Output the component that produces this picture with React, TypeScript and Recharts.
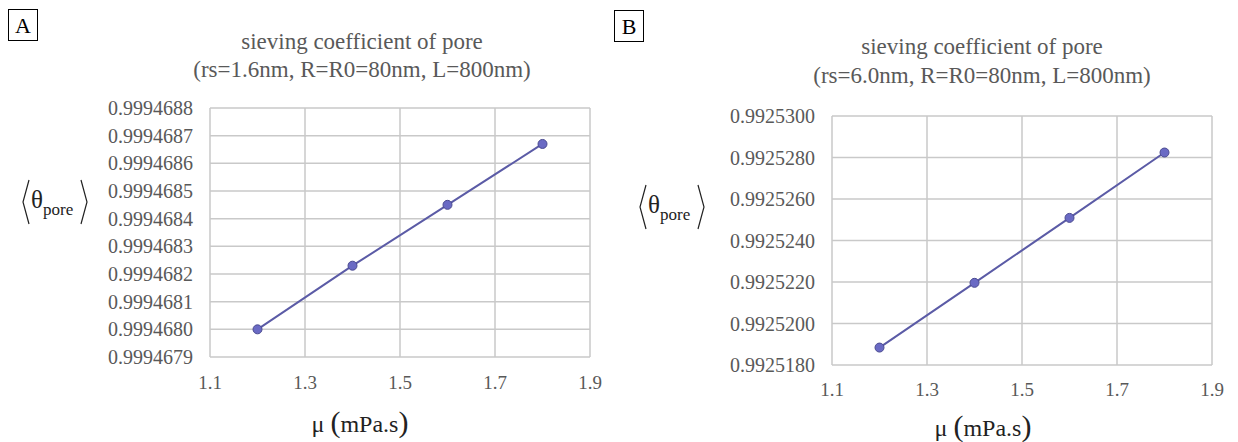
import React from 'react';
import { LineChart, Line, XAxis, YAxis, CartesianGrid } from 'recharts';

const muValues = [1.2, 1.4, 1.6, 1.8];
const thetaA = [0.99946800, 0.99946823, 0.99946845, 0.99946867];
const thetaB = [0.99251884, 0.99252196, 0.99252509, 0.99252824];

const xTicks = [1.1, 1.3, 1.5, 1.7, 1.9];
const yTicksA = [
  0.9994679, 0.999468, 0.9994681, 0.9994682, 0.9994683, 0.9994684, 0.9994685, 0.9994686, 0.9994687,
  0.9994688,
];
const yTicksB = [0.992518, 0.99252, 0.992522, 0.992524, 0.992526, 0.992528, 0.99253];

const titleA = ['sieving coefficient of pore', '(rs=1.6nm, R=R0=80nm, L=800nm)'];
const titleB = ['sieving coefficient of pore', '(rs=6.0nm, R=R0=80nm, L=800nm)'];

const serif = "'Liberation Serif', 'DejaVu Serif', serif";
const lineColor = '#5b5ba6';
const gridColor = '#c9c9c9';
const tickStyle = { fill: '#595959', fontFamily: serif };

const dataA = muValues.map((mu, i) => ({ mu, theta: thetaA[i] }));
const dataB = muValues.map((mu, i) => ({ mu, theta: thetaB[i] }));

const Dot = (props: any) => {
  const { cx, cy } = props;
  return <circle cx={cx} cy={cy} r={4.5} fill="#6a6ac4" stroke="#4a4a90" strokeWidth={1} />;
};

const Panel = ({ data, yTicks, margin }: any) => (
  <LineChart width={619} height={442} data={data} margin={margin} style={{ fontFamily: serif }}>
    <CartesianGrid stroke={gridColor} strokeWidth={1.5} vertical horizontal />
    <XAxis
      dataKey="mu"
      type="number"
      domain={[1.1, 1.9]}
      ticks={xTicks}
      tickFormatter={(v: number) => v.toFixed(1)}
      axisLine={false}
      tickLine={false}
      tickSize={0}
      tickMargin={margin.xTick}
      height={40}
      tick={{ ...tickStyle, fontSize: 19 }}
    />
    <YAxis
      type="number"
      domain={[yTicks[0], yTicks[yTicks.length - 1]]}
      ticks={yTicks}
      tickFormatter={(v: number) => v.toFixed(7)}
      axisLine={false}
      tickLine={false}
      tickSize={0}
      tickMargin={17}
      width={110}
      interval={0}
      tick={{ ...tickStyle, fontSize: 20 }}
    />
    <Line
      dataKey="theta"
      type="linear"
      stroke={lineColor}
      strokeWidth={2}
      dot={<Dot />}
      isAnimationActive={false}
    />
  </LineChart>
);

const Title = ({ lines, cx, y1, y2 }: any) => (
  <>
    {lines.map((t: string, i: number) => (
      <div
        key={i}
        style={{
          position: 'absolute',
          left: cx - 250,
          width: 500,
          top: (i === 0 ? y1 : y2) - 14,
          textAlign: 'center',
          fontSize: 23,
          lineHeight: '28px',
          color: '#595959',
          fontFamily: serif,
          whiteSpace: 'nowrap',
        }}
      >
        {t}
      </div>
    ))}
  </>
);

const PanelLetter = ({ text, left, top }: any) => (
  <div
    style={{
      position: 'absolute',
      left,
      top,
      width: 30,
      height: 32,
      border: '1px solid #000',
      boxSizing: 'border-box',
      textAlign: 'center',
      fontSize: 22,
      lineHeight: '31px',
      fontFamily: serif,
      color: '#000',
    }}
  >
    {text}
  </div>
);

// angle brackets drawn as thin strokes, the symbol inside stays text
const YLabel = ({ cx, cy }: any) => (
  <div style={{ position: 'absolute', left: cx - 34, top: cy - 24, width: 68, height: 48 }}>
    <svg width={68} height={48} style={{ position: 'absolute', left: 0, top: 0 }}>
      <polyline points="8,2 2,24 8,46" fill="none" stroke="#222" strokeWidth={1.2} />
      <polyline points="60,2 66,24 60,46" fill="none" stroke="#222" strokeWidth={1.2} />
    </svg>
    <div
      style={{
        position: 'absolute',
        left: 10,
        top: 8,
        fontFamily: serif,
        color: '#222',
        whiteSpace: 'nowrap',
        lineHeight: '28px',
      }}
    >
      <span style={{ fontSize: 25 }}>θ</span>
      <span style={{ fontSize: 17, position: 'relative', top: 7 }}>pore</span>
    </div>
  </div>
);

const XLabel = ({ cx, cy }: any) => (
  <div
    style={{
      position: 'absolute',
      left: cx - 80,
      width: 160,
      top: cy - 16,
      lineHeight: '32px',
      textAlign: 'center',
      fontFamily: serif,
      color: '#222',
      whiteSpace: 'nowrap',
    }}
  >
    <span style={{ fontSize: 24 }}>μ&nbsp;</span>
    <span style={{ fontSize: 30 }}>(</span>
    <span style={{ fontSize: 24 }}>mPa.s</span>
    <span style={{ fontSize: 30 }}>)</span>
  </div>
);

export default function App() {
  return (
    <div
      style={{
        position: 'absolute',
        left: 0,
        top: 0,
        width: 1238,
        height: 442,
        background: '#fff',
        overflow: 'hidden',
      }}
    >
      <div style={{ position: 'absolute', left: 0, top: 0 }}>
        <Panel data={dataA} yTicks={yTicksA} margin={{ top: 108, right: 29, left: 100, bottom: 45, xTick: 19 }} />
      </div>
      <div style={{ position: 'absolute', left: 619, top: 0 }}>
        <Panel data={dataB} yTicks={yTicksB} margin={{ top: 116, right: 26, left: 103, bottom: 37, xTick: 18 }} />
      </div>

      <PanelLetter text="A" left={8} top={9} />
      <PanelLetter text="B" left={614} top={10} />

      <Title lines={titleA} cx={362} y1={42} y2={70} />
      <Title lines={titleB} cx={982} y1={47} y2={76} />

      <YLabel cx={55} cy={202} />
      <YLabel cx={672} cy={207} />

      <XLabel cx={360} cy={422} />
      <XLabel cx={983} cy={426} />
    </div>
  );
}
